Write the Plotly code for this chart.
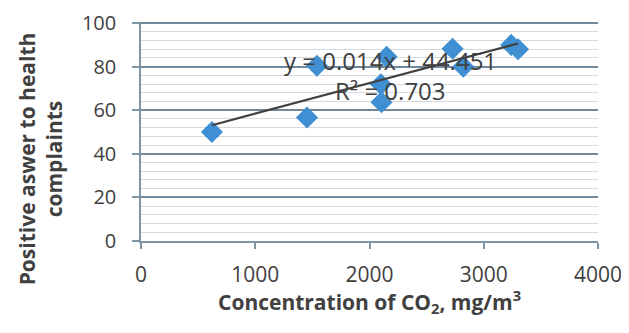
import plotly.graph_objects as go

co2 = [621, 1453, 1540, 2150, 2100, 2105, 2727, 2821, 3240, 3300]
complaints = [50, 56.7, 80.4, 84.5, 71.9, 63.7, 88.2, 80.0, 90.0, 88.0]
slope = 0.014
intercept = 44.451
r2 = 0.703

x_ticks = [0, 1000, 2000, 3000, 4000]
y_ticks = [0, 20, 40, 60, 80, 100]

font_family = "Open Sans, DejaVu Sans, sans-serif"
text_col = "#404040"

x_line = [min(co2), max(co2)]
y_line = [slope * v + intercept for v in x_line]

fig = go.Figure()
fig.add_trace(go.Scatter(
    x=co2, y=complaints, mode="markers",
    marker=dict(symbol="diamond", size=17, color="#3f8fd2", line=dict(width=0)),
    showlegend=False, cliponaxis=False,
))
fig.add_trace(go.Scatter(
    x=x_line, y=y_line, mode="lines",
    line=dict(color="#404040", width=2.2),
    showlegend=False,
))

fig.add_annotation(
    x=0.545, y=0.825, xref="paper", yref="paper", xanchor="center", yanchor="middle",
    text=f"y = {slope}x + {intercept}", showarrow=False,
    font=dict(family=font_family, size=24, color=text_col),
)
fig.add_annotation(
    x=0.545, y=0.685, xref="paper", yref="paper", xanchor="center", yanchor="middle",
    text=f"R² = {r2}", showarrow=False,
    font=dict(family=font_family, size=24, color=text_col),
)
fig.add_annotation(
    x=-0.22, y=0.375, xref="paper", yref="paper", xanchor="center", yanchor="middle",
    text="<b>Positive aswer to health<br>complaints</b>", showarrow=False,
    textangle=-90,
    font=dict(family=font_family, size=21, color=text_col),
)
fig.add_annotation(
    x=0.5, y=-0.275, xref="paper", yref="paper", xanchor="center", yanchor="middle",
    text="<b>Concentration of CO<sub>2</sub>, mg/m<sup>3</sup></b>", showarrow=False,
    font=dict(family=font_family, size=21, color=text_col),
)

fig.update_layout(
    width=621, height=325,
    margin=dict(l=133, r=31, t=14, b=92),
    paper_bgcolor="white", plot_bgcolor="white",
    font=dict(family=font_family, color=text_col),
    xaxis=dict(
        range=[0, 4000], tickvals=x_ticks, ticktext=[str(v) for v in x_ticks],
        showgrid=False, zeroline=False, automargin=False,
        showline=True, linecolor="#7f95a3", linewidth=1.5,
        ticks="outside", ticklen=6, tickcolor="#7f95a3", tickwidth=1.5,
        ticklabelstandoff=8, ticklabeloverflow="allow",
        tickfont=dict(size=21, color=text_col),
    ),
    yaxis=dict(
        range=[0, 100.5], tickvals=y_ticks, ticktext=[str(v) for v in y_ticks],
        showgrid=True, gridcolor="#71889a", gridwidth=1.5,
        zeroline=False, automargin=False,
        showline=True, linecolor="#7f95a3", linewidth=1.5,
        ticks="outside", ticklen=7, tickcolor="#7f95a3", tickwidth=1.5,
        ticklabelstandoff=12, ticklabeloverflow="allow",
        tickfont=dict(size=20, color=text_col),
        minor=dict(dtick=4, showgrid=True, gridcolor="#d6dadd", gridwidth=1),
    ),
)

fig.write_html("out.html")
